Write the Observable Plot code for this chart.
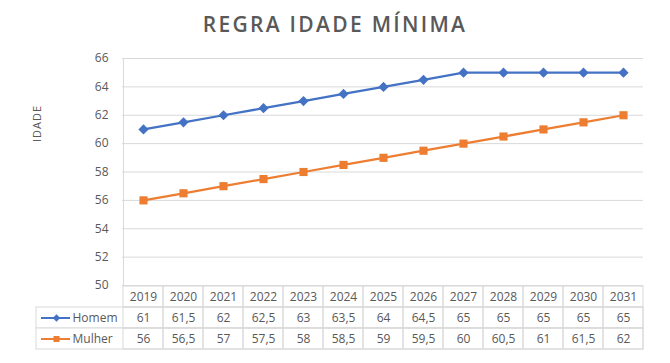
<!DOCTYPE html>
<html><head><meta charset="utf-8">
<script src="https://cdn.jsdelivr.net/npm/d3@7"></script>
<script src="https://cdn.jsdelivr.net/npm/@observablehq/plot@0.6"></script>
<style>
body{margin:0;background:#fff;font-family:"Open Sans",sans-serif;}
#wrap{position:relative;width:670px;height:363px;overflow:hidden;background:#fff;}
#title{position:absolute;left:0;top:14px;width:670px;text-align:center;font-weight:600;font-size:21px;line-height:21px;letter-spacing:2.3px;color:#595959;}
#chart{position:absolute;left:0;top:50px;}
#table{position:absolute;left:0;top:285px;}
.ylab text{letter-spacing:1px;}
</style>
</head><body>
<div id="wrap">
  <div id="title">REGRA IDADE MÍNIMA</div>
  <div id="chart"></div>
  <div id="table"></div>
</div>
<script>
const years = [2019,2020,2021,2022,2023,2024,2025,2026,2027,2028,2029,2030,2031];
const homem = [61,61.5,62,62.5,63,63.5,64,64.5,65,65,65,65,65];
const mulher = [56,56.5,57,57.5,58,58.5,59,59.5,60,60.5,61,61.5,62];
const seriesNames = ["Homem","Mulher"];
const seriesColors = ["#4472C4","#ED7D31"];
const seriesSymbols = ["diamond2","square"];
const yTicks = [50,52,54,56,58,60,62,64,66];
const yLabel = "IDADE";

const fmt = v => String(v).replace(".", ",");
const seriesValues = [homem, mulher];
const data = seriesNames.flatMap((s, k) => years.map((yr, i) => ({year: yr, serie: s, value: seriesValues[k][i]})));

const W = 670, ML = 122, MR = 27;
const frameW = W - ML - MR;
const bw = frameW / years.length;
const gray = "#595959", grid = "#d9d9d9";

const chart = Plot.plot({
  width: W, height: 235, marginTop: 8, marginBottom: 0, marginLeft: ML, marginRight: MR,
  style: {background: "transparent", overflow: "visible", fontFamily: "Open Sans", fontSize: "12px", color: gray},
  x: {type: "band", domain: years, padding: 0, axis: null},
  y: {domain: [50, 66], ticks: yTicks, tickSize: 0, tickPadding: 14, label: null},
  color: {domain: seriesNames, range: seriesColors},
  symbol: {domain: seriesNames, range: seriesSymbols},
  marks: [
    Plot.ruleY(yTicks, {stroke: grid, strokeWidth: 1}),
    Plot.ruleX([years[0]], {dx: -bw / 2, stroke: grid}),
    Plot.line(data, {x: "year", y: "value", z: "serie", stroke: "serie", strokeWidth: 2.25}),
    Plot.dot(data, {x: "year", y: "value", symbol: "serie", fill: "serie", r: 4.6, stroke: null}),
    Plot.text([yLabel], {text: d => d, frameAnchor: "left", dx: -85, dy: -30, rotate: -90, fontSize: 11, fill: gray, className: "ylab"})
  ]
});
document.getElementById("chart").appendChild(chart);

const rowKeys = ["ano", ...seriesNames];
const cells = [
  ...years.map(yr => ({year: yr, row: "ano", text: String(yr)})),
  ...seriesNames.flatMap((s, k) => years.map((yr, i) => ({year: yr, row: s, text: fmt(seriesValues[k][i])})))
];
const legendLeft = 36, swatchX1 = 41, swatchX2 = 70, labelX = 72, markX = 56;

const table = Plot.plot({
  width: W, height: 65, marginTop: 0, marginBottom: 1, marginLeft: ML, marginRight: MR,
  style: {background: "transparent", overflow: "visible", fontFamily: "Open Sans", fontSize: "12px", color: gray},
  x: {type: "band", domain: years, padding: 0, axis: null},
  y: {type: "band", domain: rowKeys, padding: 0, axis: null},
  color: {domain: seriesNames, range: seriesColors},
  symbol: {domain: seriesNames, range: seriesSymbols},
  marks: [
    Plot.cell(seriesNames, {y: d => d, fill: "white", stroke: grid, inset: 0, insetLeft: legendLeft - ML}),
    Plot.cell(cells, {x: "year", y: "row", fill: "none", stroke: grid, inset: 0}),
    Plot.text(cells, {x: "year", y: "row", text: "text", fill: gray, fontSize: 12}),
    Plot.tickY(seriesNames, {y: d => d, stroke: d => d, strokeWidth: 2, insetLeft: swatchX1 - ML, insetRight: frameW + ML - swatchX2}),
    Plot.dot(seriesNames, {y: d => d, frameAnchor: "left", dx: markX - ML, symbol: d => d, fill: d => d, r: 3.4, stroke: null}),
    Plot.text(seriesNames, {y: d => d, text: d => d, frameAnchor: "left", dx: labelX - ML, textAnchor: "start", fill: gray, fontSize: 12})
  ]
});
document.getElementById("table").appendChild(table);
</script>
</body></html>
